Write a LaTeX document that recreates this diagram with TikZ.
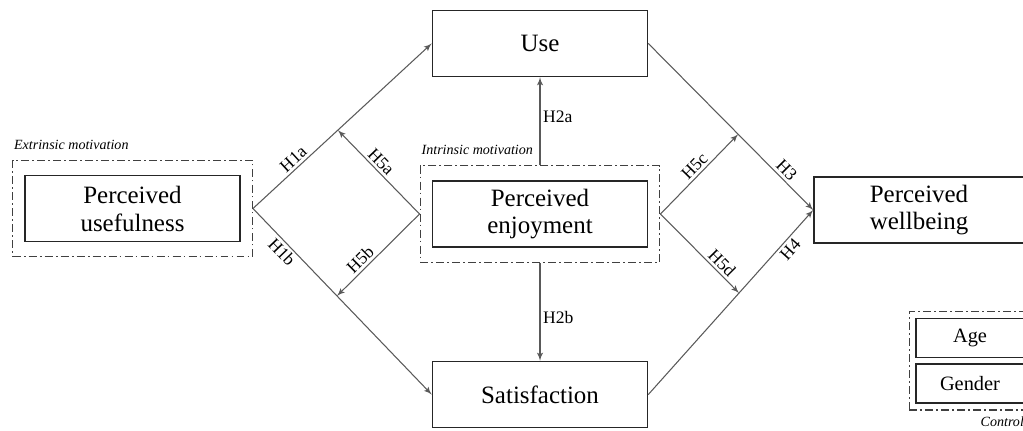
\documentclass[tikz,border=0pt]{standalone}
\usepackage{fontspec}
\setmainfont{Liberation Serif}
\usetikzlibrary{arrows, positioning, fit}

\begin{document}
\begin{tikzpicture}
    [
        x=0.02cm, y=-0.02cm,
        node distance=2cm,
        cons/.style  ={rectangle, draw=black!85, line width=0.9pt, align=center,
                       minimum width=4.3cm, minimum height=1.32cm, inner sep=2pt,
                       font=\fontsize{14.2}{15.9}\selectfont},
        ctrl/.style  ={rectangle, draw=black!85, line width=0.9pt,
                       minimum width=2.16cm, minimum height=0.78cm, inner sep=1pt,
                       font=\fontsize{11.6}{13}\selectfont},
        plate/.style ={draw=black!75, line width=0.8pt, inner xsep=0.23cm, inner ysep=0.29cm,
                       dash pattern=on 4.5pt off 1.8pt on 1pt off 1.8pt},
        pname/.style ={font=\fontsize{8}{9}\selectfont\itshape, inner sep=1pt},
        oarc/.style  ={->, >=latex', draw=black!65, line width=0.6pt},
        hyp/.style   ={font=\fontsize{10}{11}\selectfont, inner sep=1.5pt}
    ]

    \useasboundingbox (0,0) rectangle (1023,430);

    % constructs
    \node[cons]     (pe)    at (540,214)                       {Perceived\\enjoyment};
    \node[cons]     (use)   [above=2.06cm of pe]               {Use};
    \node[cons]     (sat)   [below=2.26cm of pe]               {Satisfaction};
    \node[cons]     (pu)    [left=3.82cm of pe, yshift=0.11cm] {Perceived\\usefulness};
    \node[cons, minimum width=4.2cm]
                    (pw)    [right=3.3cm of pe, yshift=0.08cm] {Perceived\\wellbeing};

    % controls
    \node[ctrl]     (age)   at (970,338)                       {Age};
    \node[ctrl]     (gen)   [below=0.1cm of age]               {Gender};

    % motivation plates
    \node[plate, fit=(pu)]  (puf) {};
    \node[plate, fit=(pe)]  (pef) {};
    \node[plate, inner xsep=0.12cm, inner ysep=0.12cm, fit=(age) (gen)] (ctf) {};

    \node[pname, anchor=south west] at ([yshift=0.16cm]puf.north west) {Extrinsic motivation};
    \node[pname, anchor=south west] at ([yshift=0.16cm]pef.north west) {Intrinsic motivation};
    \node[pname, anchor=north east] at ([yshift=-0.08cm]ctf.south east) {Controls};

    % points where the moderating paths meet
    \path (puf.east) -- (use.west) coordinate[pos=0.475] (m5a);
    \path (puf.east) -- (sat.west) coordinate[pos=0.47]  (m5b);
    \path (use.east) -- (pw.west)  coordinate[pos=0.545] (m5c);
    \path (sat.east) -- (pw.west)  coordinate[pos=0.55]  (m5d);

    \draw[oarc]     (puf.east) -- (use.west) node[hyp, sloped, above, pos=0.26] {H1a};
    \draw[oarc]     (puf.east) -- (sat.west) node[hyp, sloped, below, pos=0.2]  {H1b};
    \draw[oarc]     (pef.north) -- (use.south) node[hyp, right, pos=0.55] {H2a};
    \draw[oarc]     (pef.south) -- (sat.north) node[hyp, right, pos=0.56] {H2b};
    \draw[oarc]     (use.east) -- (pw.west) node[hyp, sloped, above, pos=0.8]  {H3};
    \draw[oarc]     (sat.east) -- (pw.west) node[hyp, sloped, below, pos=0.82] {H4};

    \draw[oarc]     (pef.west) -- (m5a) node[hyp, sloped, above, pos=0.55] {H5a};
    \draw[oarc]     (pef.west) -- (m5b) node[hyp, sloped, above, pos=0.64] {H5b};
    \draw[oarc]     (pef.east) -- (m5c) node[hyp, sloped, above, pos=0.52] {H5c};
    \draw[oarc]     (pef.east) -- (m5d) node[hyp, sloped, above, pos=0.7]  {H5d};

\end{tikzpicture}
\end{document}
